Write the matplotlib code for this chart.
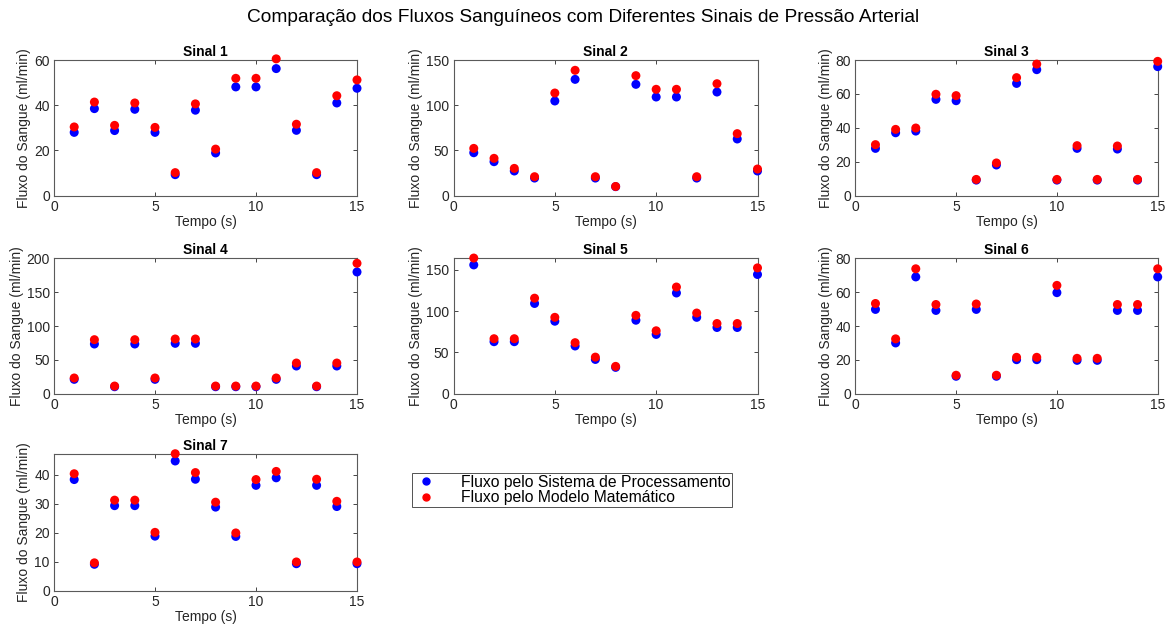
import matplotlib
matplotlib.use("Agg")
import matplotlib.pyplot as plt
from matplotlib.lines import Line2D

plt.rcParams['font.family'] = ['Liberation Sans', 'DejaVu Sans']

tempo = list(range(1, 16))

proc_1 = [28.0, 38.5, 28.8, 38.2, 28.0, 9.3, 37.8, 18.9, 48.1, 48.1, 56.2, 28.9, 9.3, 41.0, 47.5]
mod_1 = [30.4, 41.4, 31.1, 41.0, 30.2, 10.2, 40.6, 20.6, 51.9, 51.9, 60.5, 31.6, 10.2, 44.2, 51.2]

proc_2 = [47.5, 37.6, 27.3, 19.5, 104.7, 128.6, 19.5, 10.0, 123.1, 109.1, 109.1, 19.5, 114.6, 62.7, 27.3]
mod_2 = [52.3, 41.3, 30.2, 21.0, 113.5, 138.6, 21.0, 10.2, 132.7, 117.6, 117.6, 21.0, 123.8, 68.6, 29.5]

proc_3 = [27.9, 37.1, 38.1, 56.8, 56.0, 9.2, 18.1, 66.2, 74.3, 9.2, 27.9, 9.2, 27.5, 9.2, 76.1]
mod_3 = [30.1, 39.1, 39.9, 59.8, 59.0, 9.6, 19.3, 69.6, 77.6, 9.6, 29.5, 9.6, 29.3, 9.6, 79.2]

proc_4 = [21.2, 73.4, 10.3, 73.4, 21.2, 74.4, 74.4, 10.3, 10.3, 10.3, 21.2, 40.9, 10.3, 40.9, 179.8]
mod_4 = [23.2, 79.8, 11.3, 79.8, 23.2, 80.8, 80.8, 11.3, 11.3, 11.3, 23.2, 45.3, 11.3, 45.3, 192.6]

proc_5 = [156.0, 63.0, 63.0, 109.3, 87.8, 57.8, 41.5, 31.9, 89.0, 71.8, 122.0, 92.5, 80.2, 80.2, 144.4]
mod_5 = [164.3, 66.6, 66.6, 115.7, 92.5, 61.8, 44.3, 33.1, 94.9, 76.2, 129.2, 97.7, 85.0, 85.0, 152.4]

proc_6 = [49.8, 30.0, 69.0, 49.2, 10.3, 49.8, 10.3, 20.1, 20.1, 59.7, 19.7, 19.7, 49.2, 49.2, 69.0]
mod_6 = [53.3, 32.4, 73.8, 52.7, 10.9, 53.0, 10.9, 21.5, 21.5, 64.0, 20.9, 20.9, 52.7, 52.7, 73.8]

proc_7 = [38.3, 9.1, 29.3, 29.3, 18.8, 44.7, 38.4, 28.8, 18.7, 36.3, 38.9, 9.3, 36.3, 29.0, 9.3]
mod_7 = [40.3, 9.6, 31.2, 31.2, 20.1, 47.2, 40.7, 30.5, 19.9, 38.3, 41.1, 9.9, 38.4, 30.8, 9.9]

processamento = [proc_1, proc_2, proc_3, proc_4, proc_5, proc_6, proc_7]
modelo = [mod_1, mod_2, mod_3, mod_4, mod_5, mod_6, mod_7]
titulos = ['Sinal 1', 'Sinal 2', 'Sinal 3', 'Sinal 4', 'Sinal 5', 'Sinal 6', 'Sinal 7']
y_max = [60, 150, 80, 200, 164, 80, 47]
y_ticks = [[0, 20, 40, 60], [0, 50, 100, 150], [0, 20, 40, 60, 80],
           [0, 50, 100, 150, 200], [0, 50, 100, 150], [0, 20, 40, 60, 80],
           [0, 10, 20, 30, 40]]
x_ticks = [0, 5, 10, 15]

legend_labels = ['Fluxo pelo Sistema de Processamento', 'Fluxo pelo Modelo Matemático']

W, H = 1168, 630
fig = plt.figure(figsize=(W / 100, H / 100), dpi=100)

col_left = [54, 453.5, 855.3]
col_w = [303, 304, 302.4]
row_top = [60, 258.3, 454.3]
row_h = [135.7, 135.4, 136.4]

gray = '#262626'
axgray = '#5a5a5a'
blue = '#0000ff'
red = '#ff0000'

for i in range(7):
    r, c = divmod(i, 3)
    ax = fig.add_axes([col_left[c] / W, 1 - (row_top[r] + row_h[r]) / H,
                       col_w[c] / W, row_h[r] / H])
    ax.scatter(tempo, processamento[i], s=42, color=blue, edgecolors='none',
               zorder=3, clip_on=False)
    ax.scatter(tempo, modelo[i], s=42, color=red, edgecolors='none',
               zorder=4, clip_on=False)
    ax.set_xlim(0, 15)
    ax.set_ylim(0, y_max[i])
    ax.set_xticks(x_ticks)
    ax.set_yticks(y_ticks[i])
    ax.tick_params(direction='in', top=True, right=True, length=3, width=0.6,
                   colors=gray, labelsize=10, pad=3)
    for sp in ax.spines.values():
        sp.set_color(axgray)
        sp.set_linewidth(0.8)
        sp.set_zorder(2)
    ax.set_title(titulos[i], fontsize=10, fontweight='bold', color='black', pad=3)
    ax.set_xlabel('Tempo (s)', fontsize=10, color=gray, labelpad=1)
    ax.set_ylabel('Fluxo do Sangue (ml/min)', fontsize=10, color=gray, labelpad=2)

handles = [Line2D([], [], marker='o', linestyle='none', color=blue, markersize=5),
           Line2D([], [], marker='o', linestyle='none', color=red, markersize=5)]
leg = fig.legend(handles, legend_labels, loc='upper left',
                 bbox_to_anchor=(412 / W, 1 - 473 / H), fontsize=11.3,
                 frameon=True, fancybox=False, edgecolor=gray,
                 borderpad=0.12, labelspacing=0.02, handletextpad=1.4,
                 handlelength=1.6, borderaxespad=0)
leg.get_frame().set_linewidth(0.7)

fig.text(583 / W, 1 - 18 / H,
         'Comparação dos Fluxos Sanguíneos com Diferentes Sinais de Pressão Arterial',
         ha='center', va='center', fontsize=13.8, color='black')

fig.savefig('out.png', dpi=100)
